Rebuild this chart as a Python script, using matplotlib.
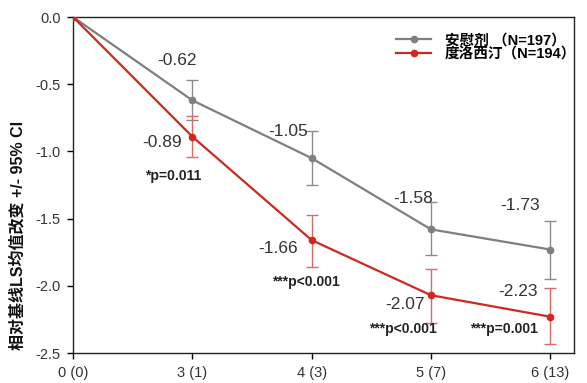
import matplotlib
matplotlib.use('Agg')
import matplotlib.pyplot as plt

plt.rcParams['font.family'] = ['Liberation Sans', 'Noto Sans CJK SC', 'DejaVu Sans']

# data
tick_labels = ['0 (0)', '3 (1)', '4 (3)', '5 (7)', '6 (13)']
placebo = [0.0, -0.62, -1.05, -1.58, -1.73]
placebo_lo = [0.0, -0.77, -1.25, -1.77, -1.95]
placebo_hi = [0.0, -0.47, -0.85, -1.38, -1.52]
dulox = [0.0, -0.89, -1.66, -2.07, -2.23]
dulox_lo = [0.0, -1.04, -1.86, -2.28, -2.43]
dulox_hi = [0.0, -0.74, -1.47, -1.875, -2.02]
pvals = ['', '*p=0.011', '***p<0.001', '***p<0.001', '***p=0.001']

x = list(range(len(tick_labels)))
gray = '#7f7f7f'
red = '#d0281e'

fig = plt.figure(figsize=(5.87, 3.83), dpi=100)
ax = fig.add_axes([0.1244, 0.0783, 0.978 - 0.1244, 0.9556 - 0.0783])

def draw(vals, lo, hi, col, ecol, label):
    yerr = [[v - l for v, l in zip(vals, lo)], [h - v for v, h in zip(vals, hi)]]
    ax.errorbar(x[1:], vals[1:], yerr=[yerr[0][1:], yerr[1][1:]], fmt='none',
                ecolor=ecol, elinewidth=1, capsize=4, capthick=1, zorder=2)
    ax.plot(x, vals, color=col, lw=1.6, marker='o', ms=4.5, zorder=3, label=label)

draw(placebo, placebo_lo, placebo_hi, gray, '#8c8c8c', '安慰剂 （N=197）')
draw(dulox, dulox_lo, dulox_hi, red, '#d96a64', '度洛西汀（N=194）')

# value labels (offsets in points)
g_off = [None, (-11, 29), (-17, 19), (-13, 22), (-22, 32)]
r_off = [None, (-22, -4), (-24, -6), (-19, -7), (-23, 18)]
p_off = [None, (-14, -28), (-4, -30), (-20, -24), (-33, -9)]
for i in x[1:]:
    ax.annotate(f'{placebo[i]:.2f}', (i, placebo[i]), xytext=g_off[i], textcoords='offset points',
                ha='center', va='center', fontsize=12.5, color='#333333')
    ax.annotate(f'{dulox[i]:.2f}', (i, dulox[i]), xytext=r_off[i], textcoords='offset points',
                ha='center', va='center', fontsize=12.5, color='#333333')
    ax.annotate(pvals[i], (i, dulox[i]), xytext=p_off[i], textcoords='offset points',
                ha='center', va='center', fontsize=10, fontweight='bold', color='#222222')

ax.set_xlim(0, 4.2)
ax.set_ylim(-2.5, 0.0)
ax.set_xticks(x)
ax.set_xticklabels(tick_labels, fontsize=10.5, color='#333333')
ax.set_yticks([0.0, -0.5, -1.0, -1.5, -2.0, -2.5])
ax.set_yticklabels(['0.0', '-0.5', '-1.0', '-1.5', '-2.0', '-2.5'], fontsize=10.5, color='#333333')
ax.tick_params(direction='out', length=4, width=1, pad=5)
for s in ax.spines.values():
    s.set_linewidth(1)
    s.set_color('#222222')

# y label sits lower than the axis centre in the original
ax.text(-0.11, 0.351, '相对基线LS均值改变 +/- 95% CI', transform=ax.transAxes,
        rotation=90, ha='center', va='center', fontsize=11.5, fontweight='bold',
        family=['Liberation Sans', 'Noto Sans CJK SC'], color='#111111')

leg = ax.legend(loc='upper right', bbox_to_anchor=(1.03, 0.99), frameon=False,
                handlelength=2.4, labelspacing=0.0, handletextpad=0.9,
                prop={'family': ['Liberation Sans', 'Noto Sans CJK SC'], 'weight': 'bold', 'size': 10.5})

fig.savefig('out.png', dpi=100)
